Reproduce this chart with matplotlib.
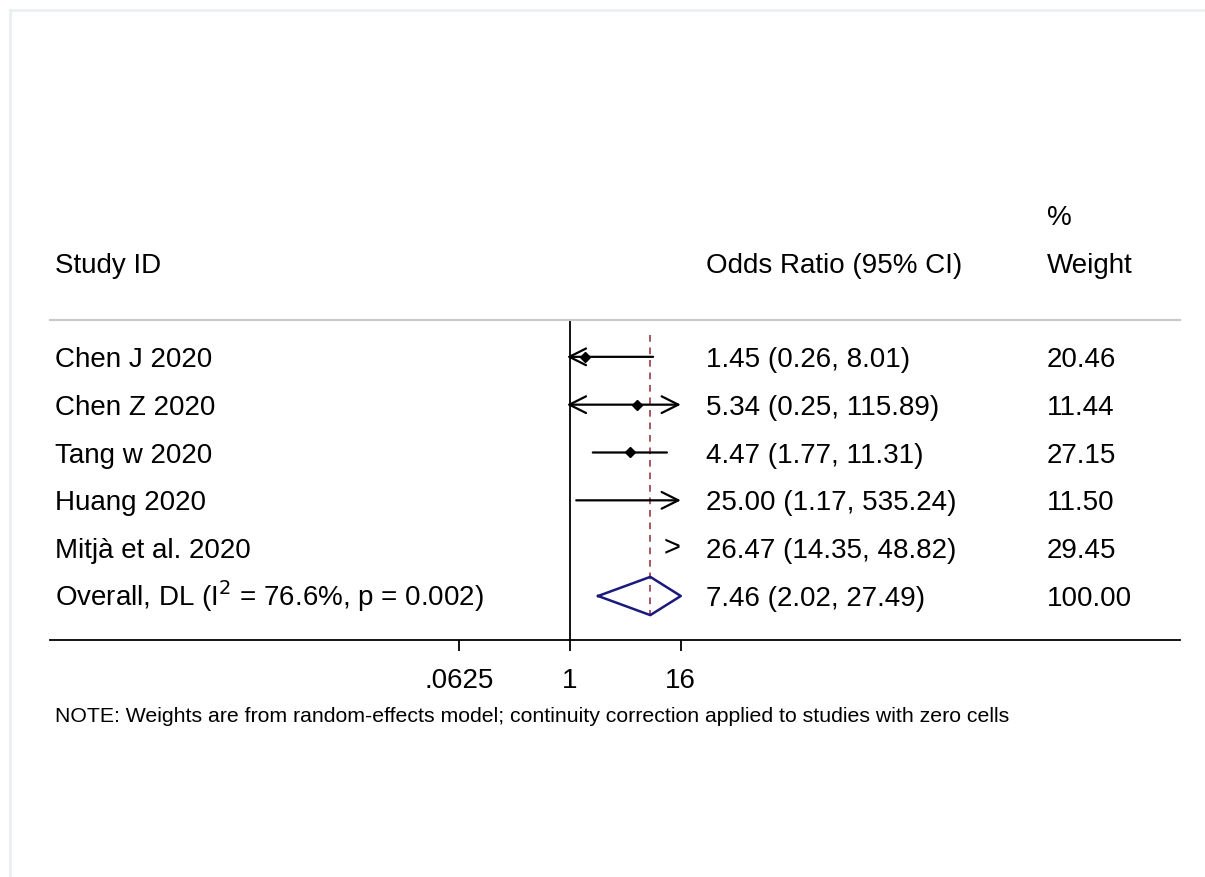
import numpy as np
import matplotlib
matplotlib.use("Agg")
import matplotlib.pyplot as plt
from matplotlib.transforms import blended_transform_factory
from matplotlib.lines import Line2D

plt.rcParams['font.family'] = ['Liberation Sans', 'DejaVu Sans']

#------------ Données ------------
studies = ["Chen J 2020", "Chen Z 2020", "Tang w 2020", "Huang 2020", "Mitjà et al. 2020"]
odds = [1.45, 5.34, 4.47, 25.00, 26.47]
ci_lo = [0.26, 0.25, 1.77, 1.17, 14.35]
ci_hi = [8.01, 115.89, 11.31, 535.24, 48.82]
weights = [20.46, 11.44, 27.15, 11.50, 29.45]

overall_label = "Overall, DL (I$^2$ = 76.6%, p = 0.002)"
overall_or, overall_lo, overall_hi = 7.46, 2.02, 27.49
overall_weight = 100.00

xticks = [0.0625, 1, 16]
xtick_labels = [".0625", "1", "16"]
clip_lo, clip_hi = 0.925, 16   # zone d'affichage des IC

#------------ Figure ------------
W, H = 1205, 877
fig = plt.figure(figsize=(W / 100, H / 100), dpi=100)
ax = fig.add_axes([50 / W, 1 - 640 / H, 1130 / W, 320 / H])

ax.set_xscale("log", base=2)
ax.set_xlim(2 ** -18.77, 2 ** 22.02)
ax.set_ylim(6.92, 0.23)

ax.spines['left'].set_visible(False)
ax.spines['right'].set_visible(False)
ax.spines['top'].set_color("#c8c8c8")
ax.spines['top'].set_linewidth(1.5)
ax.spines['bottom'].set_linewidth(1.3)
ax.set_yticks([])
ax.set_xticks(xticks)
ax.set_xticklabels(xtick_labels)
ax.minorticks_off()
ax.tick_params(axis='x', length=8, width=1.3, labelsize=20, pad=12)

# ligne de nullité
ax.axvline(1, color="black", lw=1.3)

# ligne pointillée de l'estimation globale
ax.plot([overall_or, overall_or], [0.54, 6.4], color="#9b3a45", lw=1.2, ls=(0, (4, 3.5)))

rows = np.arange(1, len(studies) + 1)
n = len(studies)


def ci_line(y, lo, hi):
    a = max(lo, clip_lo)
    b = min(hi, clip_hi)
    if lo < clip_lo and hi > clip_hi:
        style = "<->"
    elif lo < clip_lo:
        style = "<-"
    elif hi > clip_hi:
        style = "->"
    else:
        style = "-"
    ax.annotate("", xy=(b, y), xytext=(a, y),
                arrowprops=dict(arrowstyle=style, lw=1.6, color="black",
                                mutation_scale=30, shrinkA=0, shrinkB=0))


for i in range(n):
    y = rows[i]
    if ci_lo[i] < clip_hi * 0.85:
        ci_line(y, ci_lo[i], ci_hi[i])
    else:
        ax.text(clip_hi, y, ">", ha="right", va="center", fontsize=21)
    if clip_lo <= odds[i] <= clip_hi:
        ax.plot(odds[i], y, marker="D", color="black", ms=5.5)

# losange global
yo = n + 1
d_lo = max(overall_lo, clip_lo)
d_hi = min(overall_hi, clip_hi)
ax.plot([d_lo, overall_or, d_hi, overall_or, d_lo],
        [yo, yo - 0.4, yo, yo + 0.4, yo], color="#1a1a7e", lw=1.8)

# colonnes de texte (ligne de base commune)
tr = blended_transform_factory(fig.transFigure, ax.transData)
fs = 20
dy = 0.21
x_lab, x_or, x_w = 55 / W, 706 / W, 1047 / W
for i in range(n):
    y = rows[i] + dy
    ax.text(x_lab, y, studies[i], transform=tr, fontsize=fs, va="baseline", ha="left")
    ax.text(x_or, y, f"{odds[i]:.2f} ({ci_lo[i]:.2f}, {ci_hi[i]:.2f})",
            transform=tr, fontsize=fs, va="baseline", ha="left")
    ax.text(x_w, y, f"{weights[i]:.2f}", transform=tr, fontsize=fs, va="baseline", ha="left")

ax.text(x_lab, yo + dy, overall_label, transform=tr, fontsize=fs, va="baseline", ha="left")
ax.text(x_or, yo + dy, f"{overall_or:.2f} ({overall_lo:.2f}, {overall_hi:.2f})",
        transform=tr, fontsize=fs, va="baseline", ha="left")
ax.text(x_w, yo + dy, f"{overall_weight:.2f}", transform=tr, fontsize=fs, va="baseline", ha="left")

# en-têtes
fig.text(x_lab, 1 - 263 / H, "Study ID", fontsize=fs, va="center_baseline", ha="left")
fig.text(x_or, 1 - 263 / H, "Odds Ratio (95% CI)", fontsize=fs, va="center_baseline", ha="left")
fig.text(x_w, 1 - 215 / H, "%", fontsize=fs, va="center_baseline", ha="left")
fig.text(x_w, 1 - 263 / H, "Weight", fontsize=fs, va="center_baseline", ha="left")

fig.text(x_lab, 1 - 715 / H,
         "NOTE: Weights are from random-effects model; continuity correction applied to studies with zero cells",
         fontsize=15.3, va="center_baseline", ha="left")

# bordure claire (capture d'écran)
fig.add_artist(Line2D([9.5 / W, 9.5 / W], [0, 1 - 10 / H], transform=fig.transFigure,
                      color="#eaf0f2", lw=2))
fig.add_artist(Line2D([9.5 / W, 1], [1 - 10 / H, 1 - 10 / H], transform=fig.transFigure,
                      color="#eaf0f2", lw=2))

fig.savefig("out.png", dpi=100)
